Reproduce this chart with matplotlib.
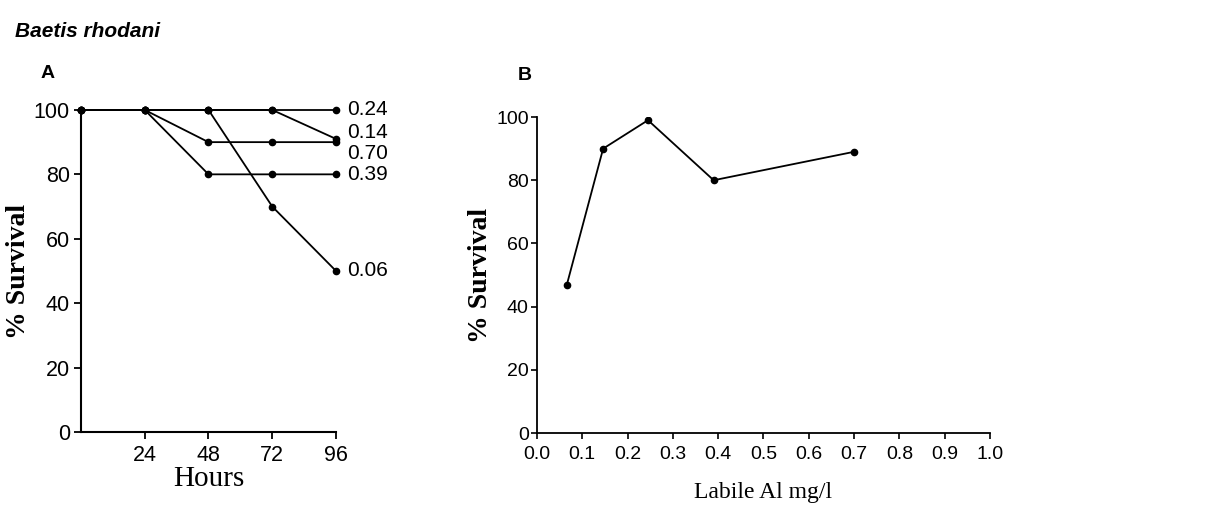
import matplotlib
matplotlib.use("Agg")
import matplotlib.pyplot as plt

# Panel A data: survival (%) over time for each labile Al concentration
hours = [0, 24, 48, 72, 96]
series_labels = ["0.24", "0.14", "0.70", "0.39", "0.06"]
surv_024 = [100, 100, 100, 100, 100]
surv_014 = [100, 100, 100, 100, 91]
surv_070 = [100, 100, 90, 90, 90]
surv_039 = [100, 100, 80, 80, 80]
surv_006 = [100, 100, 100, 70, 50]
label_y = [100, 93, 86.5, 80, 50]

# Panel B data
al_conc = [0.066, 0.146, 0.245, 0.39, 0.70]
al_surv = [47, 90, 99, 80, 89]

sans = ["Liberation Sans", "DejaVu Sans"]
serif = ["Liberation Serif", "DejaVu Serif"]

fig = plt.figure(figsize=(12.21, 5.08), dpi=100)

fig.text(0.012, 0.938, "Baetis rhodani", family=sans, style="italic",
         weight="bold", fontsize=15, va="center", ha="left")
fig.text(0.033, 0.856, "A", family=sans, weight="bold", fontsize=14,
         va="center", ha="left")
fig.text(0.424, 0.852, "B", family=sans, weight="bold", fontsize=14,
         va="center", ha="left")

# ---------- Panel A ----------
axA = fig.add_axes([0.0663, 0.1496, 0.2089, 0.634])
for ys in [surv_024, surv_014, surv_070, surv_039, surv_006]:
    axA.plot(hours, ys, color="black", lw=1.3, marker="o", ms=4.5,
             clip_on=False)
for lab, y in zip(series_labels, label_y):
    axA.text(96 + 4.3, y, lab, family=sans, fontsize=15, va="center",
             ha="left")
axA.set_xlim(0, 96)
axA.set_ylim(0, 100)
axA.set_xticks([24, 48, 72, 96])
axA.set_yticks([0, 20, 40, 60, 80, 100])
axA.spines["top"].set_visible(False)
axA.spines["right"].set_visible(False)
for s in ["left", "bottom"]:
    axA.spines[s].set_linewidth(1.5)
axA.tick_params(direction="out", length=5, width=1.3, labelsize=15.5, pad=3)
axA.tick_params(axis="x", pad=4)
for t in axA.get_xticklabels() + axA.get_yticklabels():
    t.set_family(sans)
axA.set_xlabel("Hours", family=serif, fontsize=21, labelpad=0)
axA.set_ylabel("% Survival", family=serif, fontsize=20, weight="bold",
               labelpad=2)

# ---------- Panel B ----------
axB = fig.add_axes([0.4398, 0.1476, 0.371, 0.622])
axB.plot(al_conc, al_surv, color="black", lw=1.3, marker="o", ms=4.5)
axB.set_xlim(0, 1.0)
axB.set_ylim(0, 100)
axB.set_xticks([i / 10 for i in range(11)])
axB.set_xticklabels([f"{i/10:.1f}" for i in range(11)])
axB.set_yticks([0, 20, 40, 60, 80, 100])
axB.spines["top"].set_visible(False)
axB.spines["right"].set_visible(False)
for s in ["left", "bottom"]:
    axB.spines[s].set_linewidth(1.3)
axB.tick_params(direction="out", length=4, width=1.2, labelsize=14, pad=2)
axB.tick_params(axis="x", pad=5)
for t in axB.get_xticklabels() + axB.get_yticklabels():
    t.set_family(sans)
axB.set_xlabel("Labile Al mg/l", family=serif, fontsize=17, labelpad=14)
axB.set_ylabel("% Survival", family=serif, fontsize=20, weight="bold",
               labelpad=2)

fig.savefig("out.png", dpi=100)
